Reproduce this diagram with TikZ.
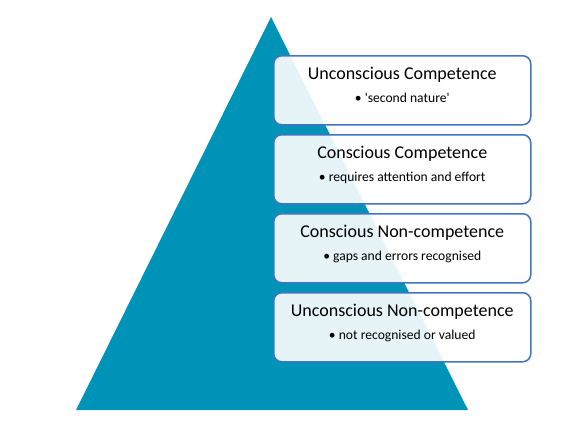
\documentclass[tikz,border=0pt]{standalone}
\usepackage{fontspec}
\setmainfont{Carlito}
\usetikzlibrary{calc}
\definecolor{tri}{HTML}{0093B8}
\definecolor{edge}{HTML}{4472C4}
\tikzset{
  lvlbox/.style={draw=edge, line width=1.5pt, rounded corners=8pt, fill=white, fill opacity=0.9, text opacity=1, minimum width=257pt, minimum height=69pt, anchor=north west, inner sep=0pt},
  ttl/.style={font=\fontsize{18}{21}\selectfont, anchor=base, inner sep=0pt},
  sub/.style={font=\fontsize{13.6}{16}\selectfont, anchor=base, inner sep=0pt}
}
\begin{document}
\begin{tikzpicture}[x=1pt,y=-1pt]
\useasboundingbox (0,0) rectangle (586,442);
\fill[tri] (271,17) coordinate (apex) -- (468,410) coordinate (br) -- (76,410) coordinate (bl) -- cycle;
\foreach \i/\t/\s in {0/Unconscious Competence/\textquotesingle second nature\textquotesingle,
                      1/Conscious Competence/requires attention and effort,
                      2/Conscious Non-competence/gaps and errors recognised,
                      3/Unconscious Non-competence/not recognised or valued}{
  \node[lvlbox] (b\i) at (273,{55+79*\i}) {};
  \node[ttl] (t\i) at ($(b\i.north)+(0,24)$) {\t};
  \node[sub] (s\i) at ($(b\i.north)+(0,47)$) {\textbullet\ \s};
}
\end{tikzpicture}
\end{document}
